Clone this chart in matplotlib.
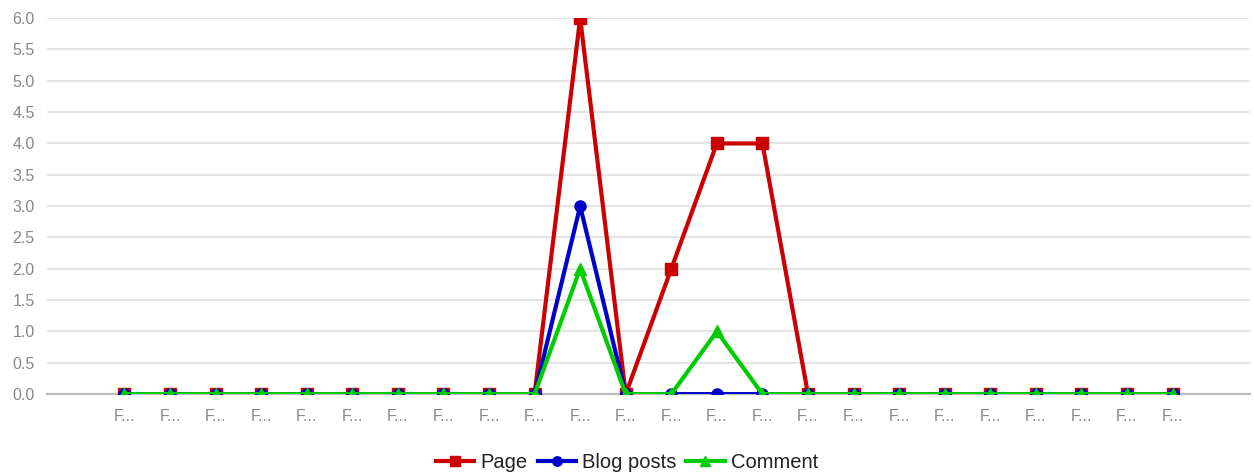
import matplotlib
matplotlib.use("Agg")
import matplotlib.pyplot as plt
import numpy as np

plt.rcParams['font.family'] = ['Liberation Sans', 'DejaVu Sans']

labels = ["F..."] * 24
page = [0, 0, 0, 0, 0, 0, 0, 0, 0, 0, 6, 0, 2, 4, 4, 0, 0, 0, 0, 0, 0, 0, 0, 0]
blog_posts = [0, 0, 0, 0, 0, 0, 0, 0, 0, 0, 3, 0, 0, 0, 0, 0, 0, 0, 0, 0, 0, 0, 0, 0]
comment = [0, 0, 0, 0, 0, 0, 0, 0, 0, 0, 2, 0, 0, 1, 0, 0, 0, 0, 0, 0, 0, 0, 0, 0]

x = np.arange(len(labels))

fig = plt.figure(figsize=(12.54, 4.76), dpi=100)
ax = fig.add_axes([0.0375, 0.172, 0.9593, 0.79])

ax.plot(x, page, color='#cc0000', lw=3, marker='s', ms=9, label='Page', zorder=3)
ax.plot(x, blog_posts, color='#0000cc', lw=3, marker='o', ms=8, label='Blog posts', zorder=4)
ax.plot(x, comment, color='#00cc00', lw=3, marker='^', ms=8, label='Comment', zorder=5)

ax.set_ylim(0, 6)
ax.set_xlim(-1.7, len(labels) - 1 + 1.7)
ax.set_yticks(np.arange(0, 6.01, 0.5))
ax.set_yticklabels([f"{v:.1f}" for v in np.arange(0, 6.01, 0.5)])
ax.set_xticks(x)
ax.set_xticklabels(labels)
ax.tick_params(length=0, colors='#888888', labelsize=11.5)
ax.tick_params(axis='x', pad=11)
ax.tick_params(axis='y', pad=9)

ax.grid(axis='y', color='#e0e0e0', lw=1.2)
ax.set_axisbelow(True)
for s in ['top', 'right', 'left']:
    ax.spines[s].set_visible(False)
ax.spines['bottom'].set_color('#bbbbbb')
ax.spines['bottom'].set_linewidth(1.5)

fig.legend(loc='lower center', bbox_to_anchor=(0.5, -0.03), ncol=3, frameon=False,
           fontsize=14.5, handlelength=1.9, handletextpad=0.3, columnspacing=0.5,
           markerscale=0.85, labelcolor='#222222')

fig.savefig('out.png', dpi=100)
